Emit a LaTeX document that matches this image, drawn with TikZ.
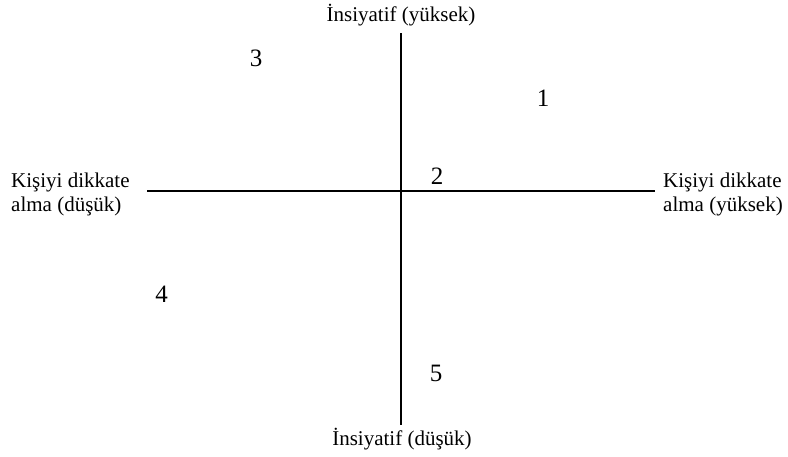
\documentclass[tikz,border=0pt]{standalone}
\usepackage{fontspec}
\setmainfont{Liberation Serif}
\begin{document}
\begin{tikzpicture}[x=1pt,y=-1pt,
  axis/.style={line width=1.8pt,black},
  lbl/.style={inner sep=0pt,font=\fontsize{21}{24}\selectfont,align=left},
  num/.style={inner sep=0pt,font=\fontsize{25}{28}\selectfont}]
\useasboundingbox (0,0) rectangle (788,456);
\coordinate (vt) at (401,33);
\coordinate (vb) at (401,425);
\coordinate (hl) at (147,191);
\coordinate (hr) at (655,191);
\draw[axis] (vt) -- (vb);
\draw[axis] (hl) -- (hr);
\node[lbl,anchor=base] (top) at (401,21) {İnsiyatif (yüksek)};
\node[lbl,anchor=base] (bot) at (402,445) {İnsiyatif (düşük)};
\node[lbl,anchor=base west] (left) at (11,211) {Kişiyi dikkate\\alma (düşük)};
\node[lbl,anchor=base west] (right) at (663,211) {Kişiyi dikkate\\alma (yüksek)};
\node[num] (n1) at (543,98.5) {1};
\node[num] (n2) at (437,176.5) {2};
\node[num] (n3) at (256,58) {3};
\node[num] (n4) at (161.5,294) {4};
\node[num] (n5) at (436,373) {5};
\end{tikzpicture}
\end{document}
